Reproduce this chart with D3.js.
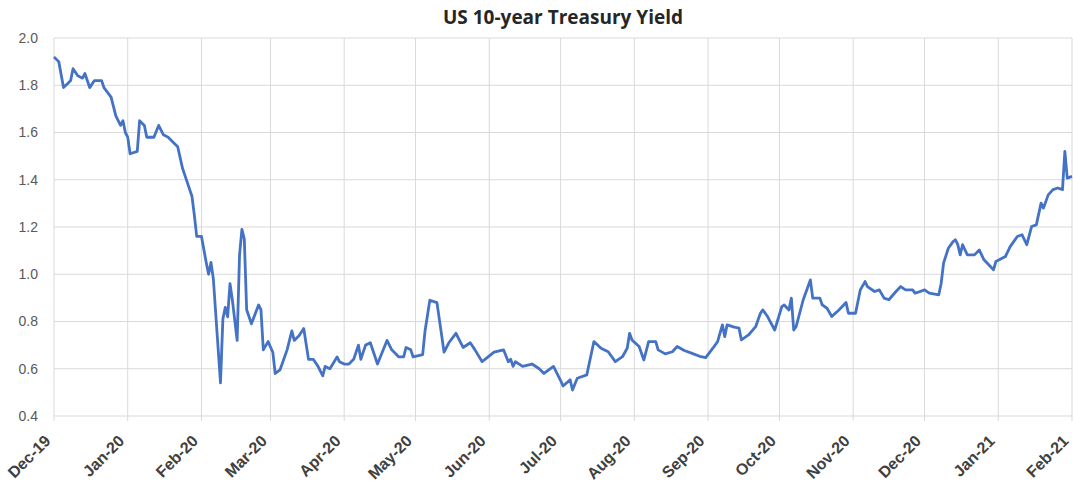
<!DOCTYPE html>
<html>
<head>
<meta charset="utf-8">
<script src="https://cdn.jsdelivr.net/npm/d3@7"></script>
<style>
  body { margin: 0; background: #fff; }
  svg { display: block; font-family: "Open Sans", "Liberation Sans", sans-serif; }
</style>
</head>
<body>
<svg id="chart"></svg>
<script>
// US 10-year yield
const dates = [
  "2019-12-01","2019-12-03","2019-12-05","2019-12-07","2019-12-08","2019-12-09","2019-12-11","2019-12-13",
  "2019-12-14","2019-12-15","2019-12-16","2019-12-18","2019-12-21","2019-12-22","2019-12-25","2019-12-27",
  "2019-12-29","2019-12-30","2019-12-31","2020-01-01","2020-01-02","2020-01-05","2020-01-06","2020-01-08",
  "2020-01-09","2020-01-12","2020-01-14","2020-01-16","2020-01-18","2020-01-20","2020-01-22","2020-01-24",
  "2020-01-26","2020-01-28","2020-01-29","2020-01-30","2020-02-01","2020-02-03","2020-02-04","2020-02-05",
  "2020-02-06","2020-02-09","2020-02-10","2020-02-11","2020-02-12","2020-02-13","2020-02-14","2020-02-16",
  "2020-02-17","2020-02-18","2020-02-19","2020-02-20","2020-02-22","2020-02-25","2020-02-26","2020-02-27",
  "2020-02-29","2020-03-02","2020-03-03","2020-03-05","2020-03-08","2020-03-10","2020-03-11","2020-03-13",
  "2020-03-15","2020-03-17","2020-03-19","2020-03-21","2020-03-23","2020-03-24","2020-03-26","2020-03-29",
  "2020-03-30","2020-04-01","2020-04-03","2020-04-05","2020-04-07","2020-04-08","2020-04-10","2020-04-12",
  "2020-04-15","2020-04-19","2020-04-21","2020-04-24","2020-04-26","2020-04-27","2020-04-29","2020-04-30",
  "2020-05-04","2020-05-05","2020-05-07","2020-05-10","2020-05-11","2020-05-13","2020-05-15","2020-05-18",
  "2020-05-21","2020-05-24","2020-05-26","2020-05-29","2020-06-03","2020-06-07","2020-06-09","2020-06-10",
  "2020-06-11","2020-06-12","2020-06-15","2020-06-19","2020-06-22","2020-06-24","2020-06-28","2020-07-01",
  "2020-07-02","2020-07-05","2020-07-06","2020-07-08","2020-07-12","2020-07-15","2020-07-18","2020-07-21",
  "2020-07-24","2020-07-27","2020-07-29","2020-07-30","2020-07-31","2020-08-03","2020-08-05","2020-08-07",
  "2020-08-10","2020-08-11","2020-08-14","2020-08-17","2020-08-19","2020-08-22","2020-08-25","2020-08-29",
  "2020-08-31","2020-09-03","2020-09-05","2020-09-07","2020-09-08","2020-09-09","2020-09-12","2020-09-14",
  "2020-09-15","2020-09-18","2020-09-21","2020-09-23","2020-09-24","2020-09-26","2020-09-29","2020-10-02",
  "2020-10-03","2020-10-05","2020-10-06","2020-10-07","2020-10-08","2020-10-11","2020-10-14","2020-10-15",
  "2020-10-18","2020-10-19","2020-10-21","2020-10-23","2020-10-26","2020-10-29","2020-10-30","2020-11-02",
  "2020-11-04","2020-11-06","2020-11-07","2020-11-10","2020-11-12","2020-11-14","2020-11-16","2020-11-19",
  "2020-11-21","2020-11-23","2020-11-26","2020-11-27","2020-11-28","2020-12-01","2020-12-03","2020-12-07",
  "2020-12-08","2020-12-09","2020-12-11","2020-12-13","2020-12-14","2020-12-15","2020-12-16","2020-12-17",
  "2020-12-19","2020-12-22","2020-12-24","2020-12-26","2020-12-28","2020-12-30","2020-12-31","2021-01-04",
  "2021-01-06","2021-01-09","2021-01-11","2021-01-13","2021-01-15","2021-01-17","2021-01-19","2021-01-20",
  "2021-01-22","2021-01-24","2021-01-26","2021-01-28","2021-01-29","2021-01-30","2021-02-01"
];
const yields = [
  1.92,1.90,1.79,1.81,1.82,1.87,1.84,1.83,
  1.85,1.82,1.79,1.82,1.82,1.79,1.75,1.67,
  1.63,1.65,1.60,1.58,1.51,1.52,1.65,1.63,
  1.58,1.58,1.63,1.59,1.58,1.56,1.54,1.45,
  1.39,1.33,1.25,1.16,1.16,1.05,1.00,1.05,
  0.98,0.54,0.81,0.86,0.82,0.96,0.89,0.72,
  1.08,1.19,1.15,0.85,0.79,0.87,0.85,0.68,
  0.715,0.67,0.58,0.595,0.68,0.76,0.72,0.74,
  0.77,0.64,0.64,0.61,0.57,0.61,0.60,0.65,
  0.63,0.62,0.62,0.64,0.70,0.64,0.70,0.71,
  0.62,0.72,0.68,0.65,0.65,0.69,0.68,0.65,
  0.66,0.76,0.89,0.88,0.81,0.67,0.71,0.75,
  0.69,0.71,0.68,0.63,0.67,0.68,0.63,0.64,
  0.61,0.63,0.61,0.62,0.60,0.58,0.61,0.55,
  0.527,0.553,0.51,0.56,0.574,0.715,0.687,0.672,
  0.63,0.651,0.687,0.75,0.722,0.694,0.637,0.715,
  0.715,0.68,0.663,0.672,0.694,0.677,0.666,0.651,
  0.647,0.687,0.715,0.786,0.736,0.786,0.776,0.772,
  0.722,0.743,0.778,0.835,0.849,0.821,0.764,0.863,
  0.87,0.849,0.899,0.764,0.778,0.892,0.976,0.899,
  0.899,0.87,0.856,0.821,0.849,0.88,0.835,0.835,
  0.934,0.969,0.948,0.927,0.934,0.899,0.892,0.927,
  0.948,0.934,0.934,0.92,0.923,0.934,0.92,0.913,
  0.962,1.047,1.11,1.138,1.146,1.125,1.082,1.125,
  1.082,1.082,1.103,1.061,1.04,1.019,1.054,1.075,
  1.117,1.16,1.167,1.125,1.202,1.209,1.301,1.28,
  1.336,1.358,1.365,1.358,1.52,1.407,1.414
];
const yTicks = [0.4, 0.6, 0.8, 1.0, 1.2, 1.4, 1.6, 1.8, 2.0];
const monthTicks = ["2019-12-01","2020-01-01","2020-02-01","2020-03-01","2020-04-01","2020-05-01","2020-06-01",
  "2020-07-01","2020-08-01","2020-09-01","2020-10-01","2020-11-01","2020-12-01","2021-01-01","2021-02-01"];
const title = "US 10-year Treasury Yield";

const width = 1073, height = 491;
const margin = { top: 38, right: 1, bottom: 75, left: 54 };

const parse = d3.utcParse("%Y-%m-%d");
const data = dates.map((d, i) => ({ date: parse(d), value: yields[i] }));

const svg = d3.select("#chart").attr("width", width).attr("height", height);

const x = d3.scaleUtc()
  .domain([parse(monthTicks[0]), parse(monthTicks[monthTicks.length - 1])])
  .range([margin.left, width - margin.right]);
const y = d3.scaleLinear()
  .domain([0.4, 2.0])
  .range([height - margin.bottom, margin.top]);

// grid
svg.append("g")
  .selectAll("line")
  .data(yTicks)
  .join("line")
    .attr("x1", margin.left).attr("x2", width - margin.right)
    .attr("y1", d => y(d)).attr("y2", d => y(d))
    .attr("stroke", "#d9d9d9").attr("stroke-width", 1);

svg.append("g")
  .selectAll("line")
  .data(monthTicks.map(parse))
  .join("line")
    .attr("x1", d => x(d)).attr("x2", d => x(d))
    .attr("y1", margin.top).attr("y2", height - margin.bottom + 5)
    .attr("stroke", "#d9d9d9").attr("stroke-width", 1);

// y axis
const yAxis = svg.append("g")
  .attr("transform", `translate(${margin.left},0)`)
  .call(d3.axisLeft(y).tickValues(yTicks).tickFormat(d3.format(".1f")).tickSize(0).tickPadding(16));
yAxis.select(".domain").remove();
yAxis.selectAll("text")
  .attr("fill", "#595959")
  .style("font-size", "14px");

// x axis, labels slanted
const xAxis = svg.append("g")
  .attr("transform", `translate(0,${height - margin.bottom})`)
  .call(d3.axisBottom(x).tickValues(monthTicks.map(parse)).tickFormat(d3.utcFormat("%b-%y")).tickSize(0));
xAxis.select(".domain").remove();
xAxis.selectAll("text")
  .attr("fill", "#404040")
  .style("font-size", "16px")
  .style("font-weight", "bold")
  .attr("text-anchor", "end")
  .attr("dy", 0)
  .attr("y", 0)
  .attr("transform", "translate(-3,26) rotate(-45)");

// line
const line = d3.line()
  .x(d => x(d.date))
  .y(d => y(d.value));

svg.append("path")
  .datum(data)
  .attr("fill", "none")
  .attr("stroke", "#4472c4")
  .attr("stroke-width", 2.8)
  .attr("stroke-linejoin", "round")
  .attr("d", line);

// title
svg.append("text")
  .attr("x", (margin.left + width - margin.right) / 2)
  .attr("y", 24)
  .attr("text-anchor", "middle")
  .attr("fill", "#262626")
  .style("font-size", "19px")
  .style("font-weight", "bold")
  .text(title);
</script>
</body>
</html>
